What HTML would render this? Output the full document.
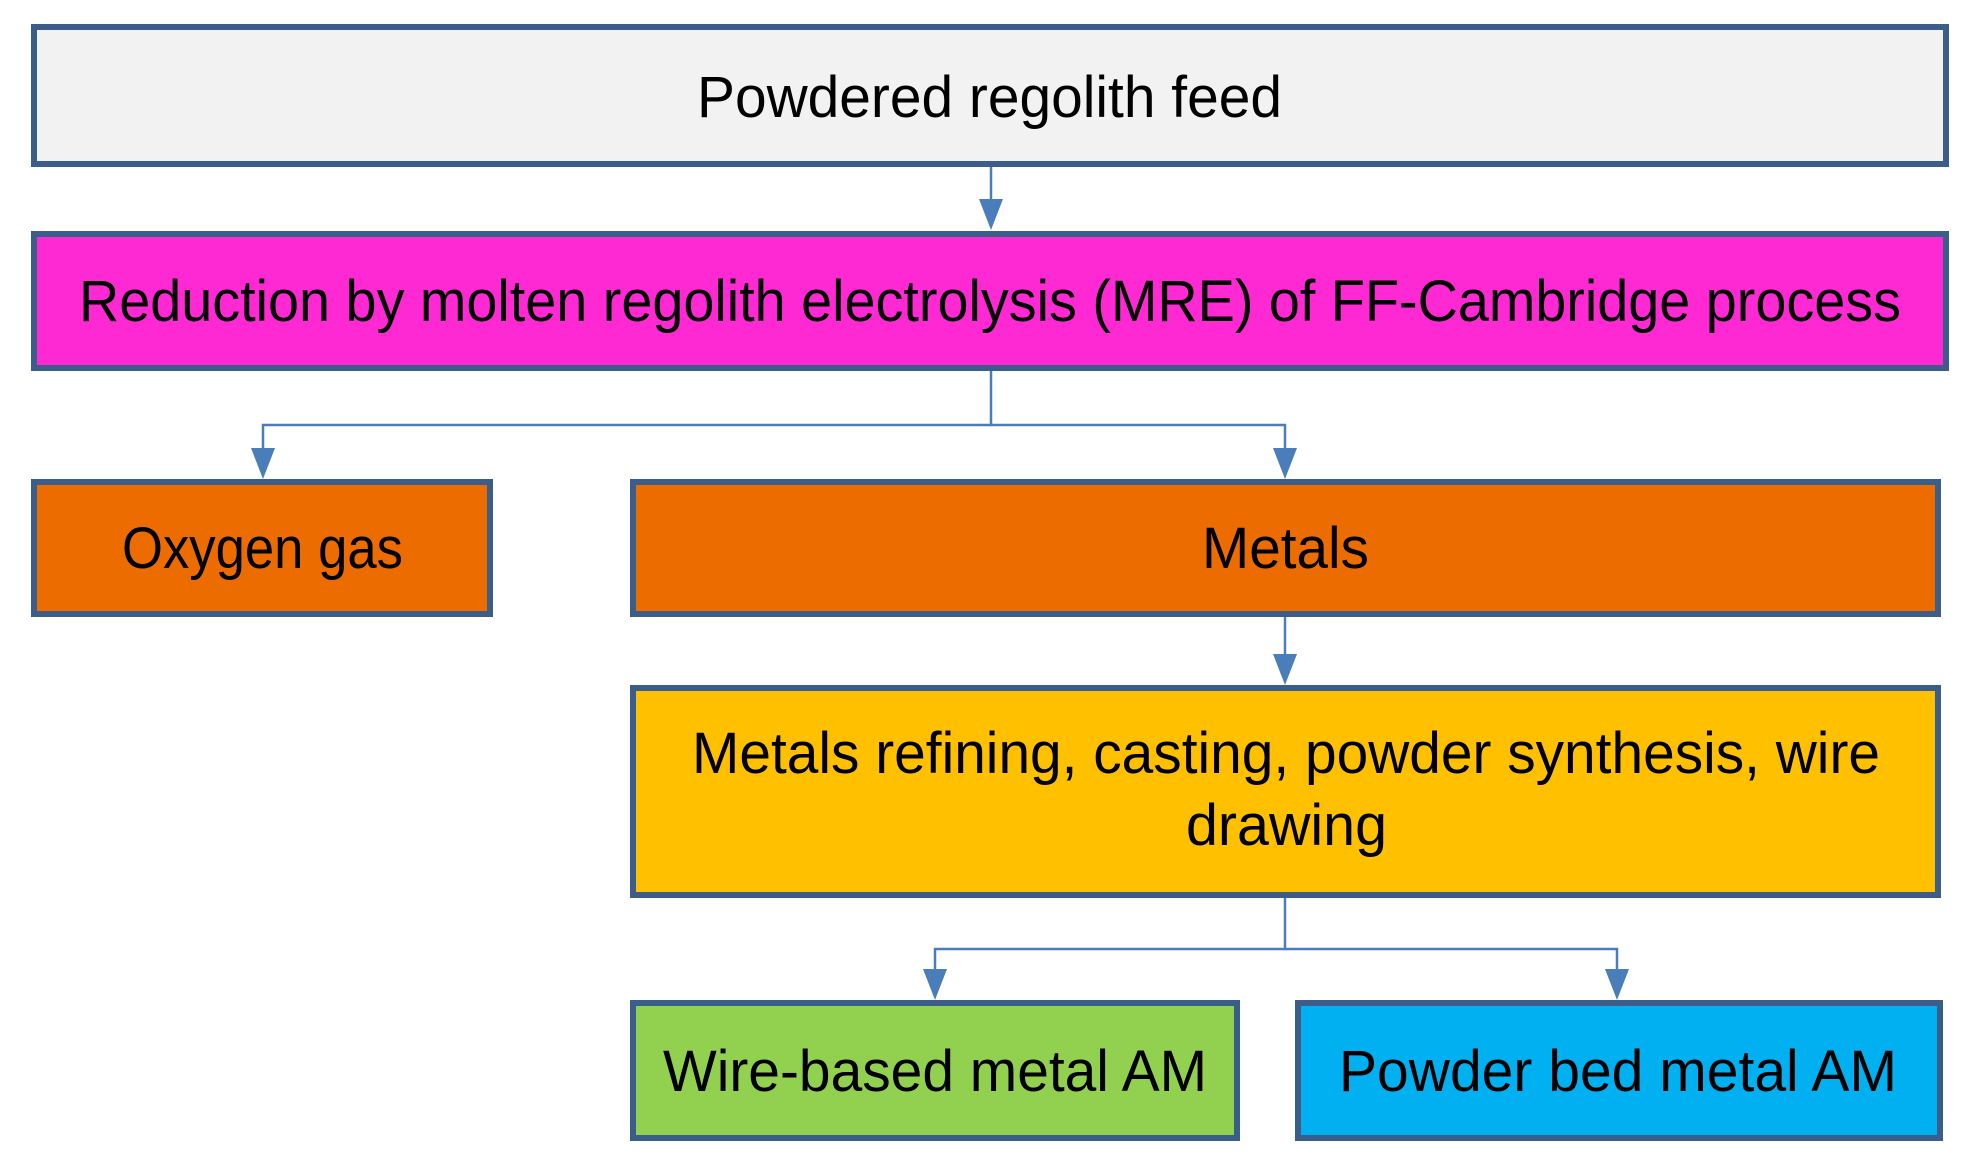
<!DOCTYPE html>
<html><head><meta charset="utf-8"><style>
html,body{margin:0;padding:0;background:#fff;width:1970px;height:1165px;overflow:hidden}
text{font-family:"Liberation Sans",sans-serif;font-size:58px;fill:#000}
</style></head><body>
<svg width="1970" height="1165" viewBox="0 0 1970 1165" xmlns="http://www.w3.org/2000/svg">
<g stroke="#3a5d8a" stroke-width="6">
<rect x="34" y="27" width="1912" height="137" fill="#f2f2f2"/>
<rect x="34" y="234" width="1912" height="134" fill="#ff29d4"/>
<rect x="34" y="482" width="456" height="132" fill="#ec6c00"/>
<rect x="633" y="482" width="1305" height="132" fill="#ec6c00"/>
<rect x="633" y="688" width="1305" height="207" fill="#ffc000"/>
<rect x="633" y="1003" width="604" height="135" fill="#92d050"/>
<rect x="1298" y="1003" width="642" height="135" fill="#00b0f0"/>
</g>
<g stroke="#4a7ebb" stroke-width="2.5" fill="none">
<line x1="991" y1="167" x2="991" y2="200"/>
<polyline points="991,371 991,425 263,425 263,450"/>
<polyline points="991,425 1285,425 1285,450"/>
<line x1="1285" y1="617" x2="1285" y2="655"/>
<polyline points="1285,898 1285,949 935,949 935,970"/>
<polyline points="1285,949 1617,949 1617,970"/>
</g>
<g fill="#4a7ebb">
<polygon points="979,199 1003,199 991,230"/>
<polygon points="251,448 275,448 263,479"/>
<polygon points="1273,448 1297,448 1285,479"/>
<polygon points="1273,654 1297,654 1285,685"/>
<polygon points="923,969 947,969 935,1000"/>
<polygon points="1605,969 1629,969 1617,1000"/>
</g>
<text x="697" y="117" textLength="585" lengthAdjust="spacingAndGlyphs">Powdered regolith feed</text>
<text x="79" y="321" textLength="1822" lengthAdjust="spacingAndGlyphs">Reduction by molten regolith electrolysis (MRE) of FF-Cambridge process</text>
<text x="122" y="568" textLength="281" lengthAdjust="spacingAndGlyphs">Oxygen gas</text>
<text x="1202" y="568" textLength="167" lengthAdjust="spacingAndGlyphs">Metals</text>
<text x="692" y="773" textLength="1188" lengthAdjust="spacingAndGlyphs">Metals refining, casting, powder synthesis, wire</text>
<text x="1186" y="845" textLength="201" lengthAdjust="spacingAndGlyphs">drawing</text>
<text x="663" y="1091" textLength="544" lengthAdjust="spacingAndGlyphs">Wire-based metal AM</text>
<text x="1339" y="1091" textLength="558" lengthAdjust="spacingAndGlyphs">Powder bed metal AM</text>
</svg>
</body></html>
